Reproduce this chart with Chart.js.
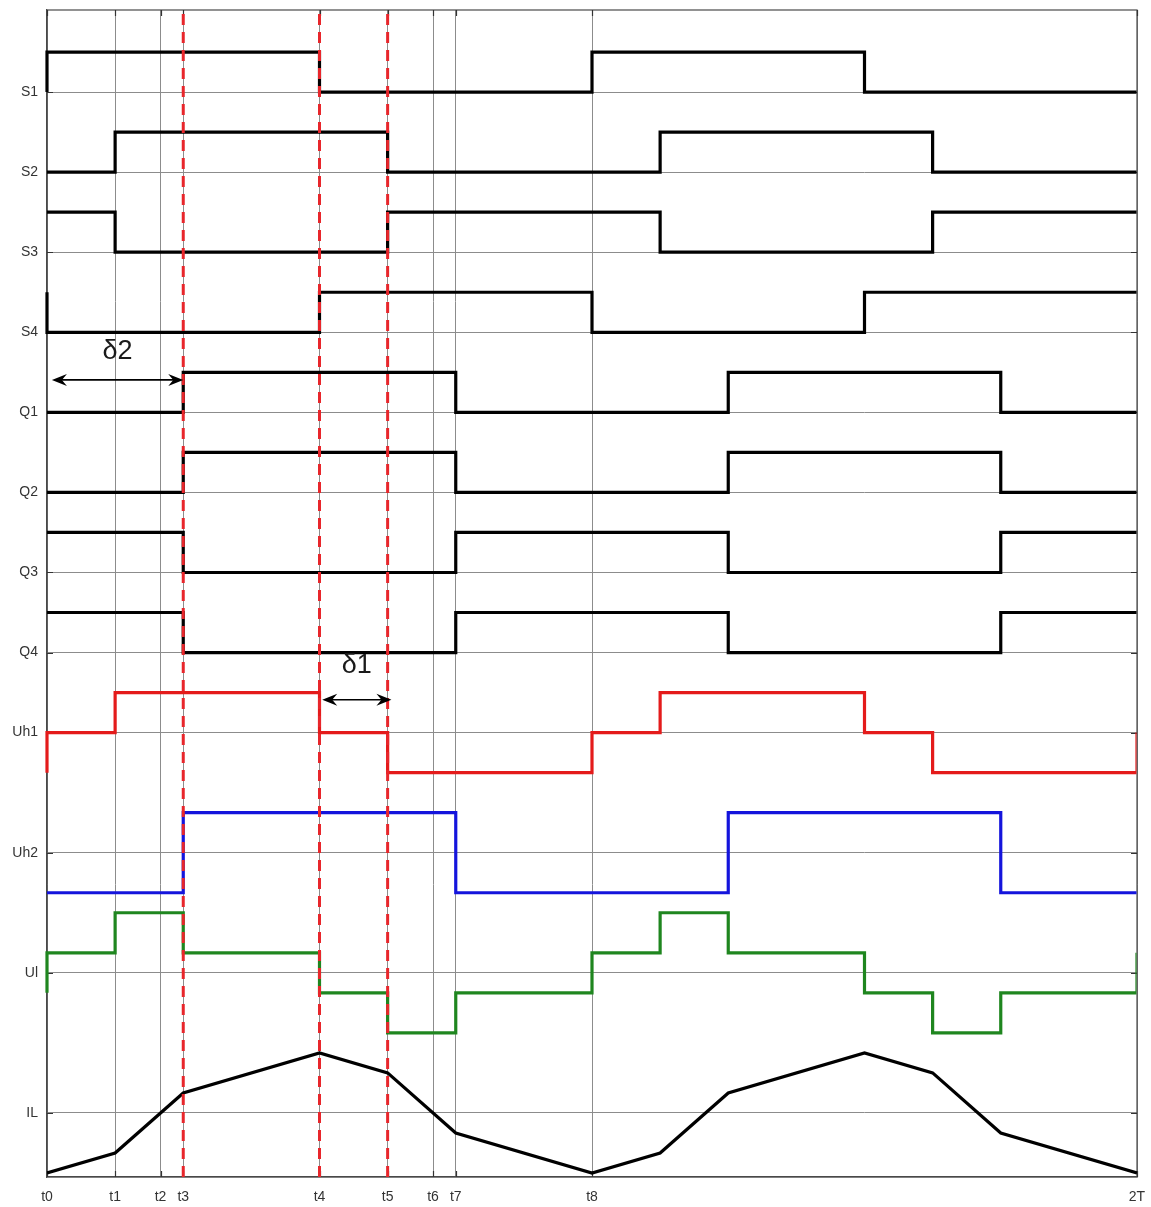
<!DOCTYPE html>
<html>
<head>
<meta charset="utf-8">
<script src="https://cdn.jsdelivr.net/npm/chart.js@4/dist/chart.umd.min.js"></script>
<style>
  html, body { margin: 0; padding: 0; background: #ffffff; }
  canvas { display: block; }
</style>
</head>
<body>
<canvas id="timing" width="1151" height="1207"></canvas>
<script>
// Time axis: one switching period T spans 0..1, two periods are shown
const tickTimes  = [0, 0.125, 5 / 24, 0.25, 0.5, 0.625, 17 / 24, 0.75, 1, 2];
const tickLabels = ['t0', 't1', 't2', 't3', 't4', 't5', 't6', 't7', 't8', '2T'];

// Instants where the waveforms change
const edgeTimes = [0, 0.125, 0.25, 0.5, 0.625, 0.75, 1, 1.125, 1.25, 1.5, 1.625, 1.75, 2];

// Lanes (top to bottom) and the baseline of each lane
const laneNames = ['S1', 'S2', 'S3', 'S4', 'Q1', 'Q2', 'Q3', 'Q4', 'Uh1', 'Uh2', 'Ul', 'IL'];
const laneBase  = [27, 25, 23, 21, 19, 17, 15, 13, 11, 8, 5, 1.5];

// Gate signals: level held over each interval between consecutive edgeTimes
const S1 = [1, 1, 1, 0, 0, 0, 1, 1, 1, 0, 0, 0];
const S2 = [0, 1, 1, 1, 0, 0, 0, 1, 1, 1, 0, 0];
const S3 = [1, 0, 0, 0, 1, 1, 1, 0, 0, 0, 1, 1];
const S4 = [0, 0, 0, 1, 1, 1, 0, 0, 0, 1, 1, 1];
const Q1 = [0, 0, 1, 1, 1, 0, 0, 0, 1, 1, 1, 0];
const Q2 = [0, 0, 1, 1, 1, 0, 0, 0, 1, 1, 1, 0];
const Q3 = [1, 1, 0, 0, 0, 1, 1, 1, 0, 0, 0, 1];
const Q4 = [1, 1, 0, 0, 0, 1, 1, 1, 0, 0, 0, 1];

// Bridge voltages (normalised), same intervals
const Uh1 = [0, 1, 1, 0, -1, -1, 0, 1, 1, 0, -1, -1];
const Uh2 = [-1, -1, 1, 1, 1, -1, -1, -1, 1, 1, 1, -1];
const Ul  = [0.5, 1.5, 0.5, -0.5, -1.5, -0.5, 0.5, 1.5, 0.5, -0.5, -1.5, -0.5];

// Inductor current at each edge time (piecewise linear)
const IL = [-1.5, -1, 0.5, 1.5, 1, -0.5, -1.5, -1, 0.5, 1.5, 1, -0.5, -1.5];

// Level just before t0, and the level reached at 2T where it is shown
const startLevel = { S1: 0, S2: 0, S3: 1, S4: 1, Q1: 0, Q2: 0, Q3: 1, Q4: 1, Uh1: -1, Uh2: -1, Ul: -0.5 };
const endLevel   = { Uh1: 0, Ul: 0.5 };

// Instants marked by the dashed red lines
const markerTimes = [0.25, 0.5, 0.625];

// Phase-shift spans: label, from, to (time), arrow level, label level
const spanNames = ['δ2', 'δ1'];
const spanFrom  = [0.009, 0.505];
const spanTo    = [0.25, 0.632];
const spanArrow = [19.81, 11.82];
const spanText  = [20.52, 12.68];

const FONT = "'Liberation Sans', Arial, Helvetica, sans-serif";
const Y_MIN = -0.1, Y_MAX = 29.05;

const levelSets = { S1, S2, S3, S4, Q1, Q2, Q3, Q4, Uh1, Uh2, Ul };
const lineColors = { Uh1: '#e41b1b', Uh2: '#1414dc', Ul: '#1f861f' };

function baseOf(name) { return laneBase[laneNames.indexOf(name)]; }

function steppedPoints(name) {
  const lv = levelSets[name];
  const b = baseOf(name);
  const pts = [{ x: edgeTimes[0], y: b + startLevel[name] }];
  for (let i = 0; i < lv.length; i++) pts.push({ x: edgeTimes[i], y: b + lv[i] });
  pts.push({ x: edgeTimes[edgeTimes.length - 1], y: b + lv[lv.length - 1] });
  if (name in endLevel) pts.push({ x: edgeTimes[edgeTimes.length - 1], y: b + endLevel[name] });
  return pts;
}

const datasets = [];

// dashed red markers first so they end up drawn on top
markerTimes.forEach(t => {
  datasets.push({
    data: [{ x: t, y: Y_MIN }, { x: t, y: Y_MAX }],
    borderColor: '#e8262b',
    borderWidth: 3,
    borderDash: [11, 7],
    pointRadius: 0,
    fill: false
  });
});

Object.keys(levelSets).forEach(name => {
  datasets.push({
    label: name,
    data: steppedPoints(name),
    stepped: true,
    borderColor: lineColors[name] || '#000000',
    borderWidth: 3.2,
    pointRadius: 0,
    fill: false,
    borderCapStyle: 'butt',
    borderJoinStyle: 'miter',
    // the wrap-around edge at 2T sits on the right frame and is cut in half there
    clip: { left: 2, top: 2, right: -0.5, bottom: 2 }
  });
});

datasets.push({
  label: 'IL',
  data: edgeTimes.map((t, i) => ({ x: t, y: baseOf('IL') + IL[i] })),
  borderColor: '#000000',
  borderWidth: 3.2,
  pointRadius: 0,
  fill: false,
  tension: 0,
  borderJoinStyle: 'miter'
});

// Axes box, inward tick marks and the δ span arrows
const framePlugin = {
  id: 'frame',
  beforeDatasetsDraw(chart) {
    const { ctx, chartArea: a, scales } = chart;
    ctx.save();
    ctx.strokeStyle = '#4a4a4a';
    ctx.lineWidth = 1.2;
    ctx.strokeRect(a.left, a.top, a.right - a.left, a.bottom - a.top);
    ctx.strokeStyle = '#333333';
    ctx.lineWidth = 1.2;
    ctx.beginPath();
    tickTimes.forEach(t => {
      const x = Math.round(scales.x.getPixelForValue(t)) + 0.5;
      ctx.moveTo(x, a.bottom); ctx.lineTo(x, a.bottom - 6);
      ctx.moveTo(x, a.top); ctx.lineTo(x, a.top + 6);
    });
    laneBase.forEach(v => {
      const y = Math.round(scales.y.getPixelForValue(v)) + 0.5;
      ctx.moveTo(a.left, y); ctx.lineTo(a.left + 6, y);
      ctx.moveTo(a.right, y); ctx.lineTo(a.right - 6, y);
    });
    ctx.stroke();
    ctx.restore();
  },
  afterDatasetsDraw(chart) {
    const { ctx, scales } = chart;
    ctx.save();
    ctx.strokeStyle = '#000000';
    ctx.fillStyle = '#000000';
    ctx.lineWidth = 1.6;
    const head = (tipX, y, dir) => {
      ctx.beginPath();
      ctx.moveTo(tipX, y);
      ctx.lineTo(tipX - dir * 15, y - 6);
      ctx.lineTo(tipX - dir * 10, y);
      ctx.lineTo(tipX - dir * 15, y + 6);
      ctx.closePath();
      ctx.fill();
    };
    spanNames.forEach((name, i) => {
      const x0 = scales.x.getPixelForValue(spanFrom[i]);
      const x1 = scales.x.getPixelForValue(spanTo[i]);
      const y = scales.y.getPixelForValue(spanArrow[i]);
      ctx.beginPath();
      ctx.moveTo(x0 + 4, y);
      ctx.lineTo(x1 - 4, y);
      ctx.stroke();
      head(x0, y, -1);
      head(x1, y, 1);
      ctx.font = '27px ' + FONT;
      ctx.textAlign = 'center';
      ctx.textBaseline = 'middle';
      ctx.fillStyle = '#1a1a1a';
      ctx.fillText(name, (x0 + x1) / 2, scales.y.getPixelForValue(spanText[i]));
      ctx.fillStyle = '#000000';
    });
    ctx.restore();
  }
};

new Chart(document.getElementById('timing'), {
  type: 'line',
  data: { datasets },
  plugins: [framePlugin],
  options: {
    responsive: false,
    animation: false,
    devicePixelRatio: 1,
    layout: { padding: { top: 10, right: 14, bottom: 0, left: 0 } },
    plugins: { legend: { display: false }, tooltip: { enabled: false } },
    scales: {
      x: {
        type: 'linear',
        min: 0,
        max: 2,
        afterBuildTicks: s => { s.ticks = tickTimes.map(v => ({ value: v })); },
        afterFit: s => { s.height = 30; s.paddingLeft = 0; s.paddingRight = 0; },
        ticks: {
          autoSkip: false,
          maxRotation: 0,
          padding: 12,
          color: '#333333',
          font: { family: FONT, size: 14 },
          callback: v => tickLabels[tickTimes.indexOf(v)]
        },
        grid: { color: '#8c8c8c', lineWidth: 1, drawTicks: false },
        border: { color: '#4a4a4a', width: 1.2 }
      },
      y: {
        type: 'linear',
        min: Y_MIN,
        max: Y_MAX,
        afterBuildTicks: s => { s.ticks = laneBase.map(v => ({ value: v })); },
        afterFit: s => { s.width = 47; s.paddingTop = 0; s.paddingBottom = 0; },
        ticks: {
          autoSkip: false,
          padding: 9,
          color: '#333333',
          font: { family: FONT, size: 14 },
          callback: v => laneNames[laneBase.indexOf(v)]
        },
        grid: { color: '#8c8c8c', lineWidth: 1, drawTicks: false },
        border: { color: '#4a4a4a', width: 1.2 }
      }
    }
  }
});
</script>
</body>
</html>
